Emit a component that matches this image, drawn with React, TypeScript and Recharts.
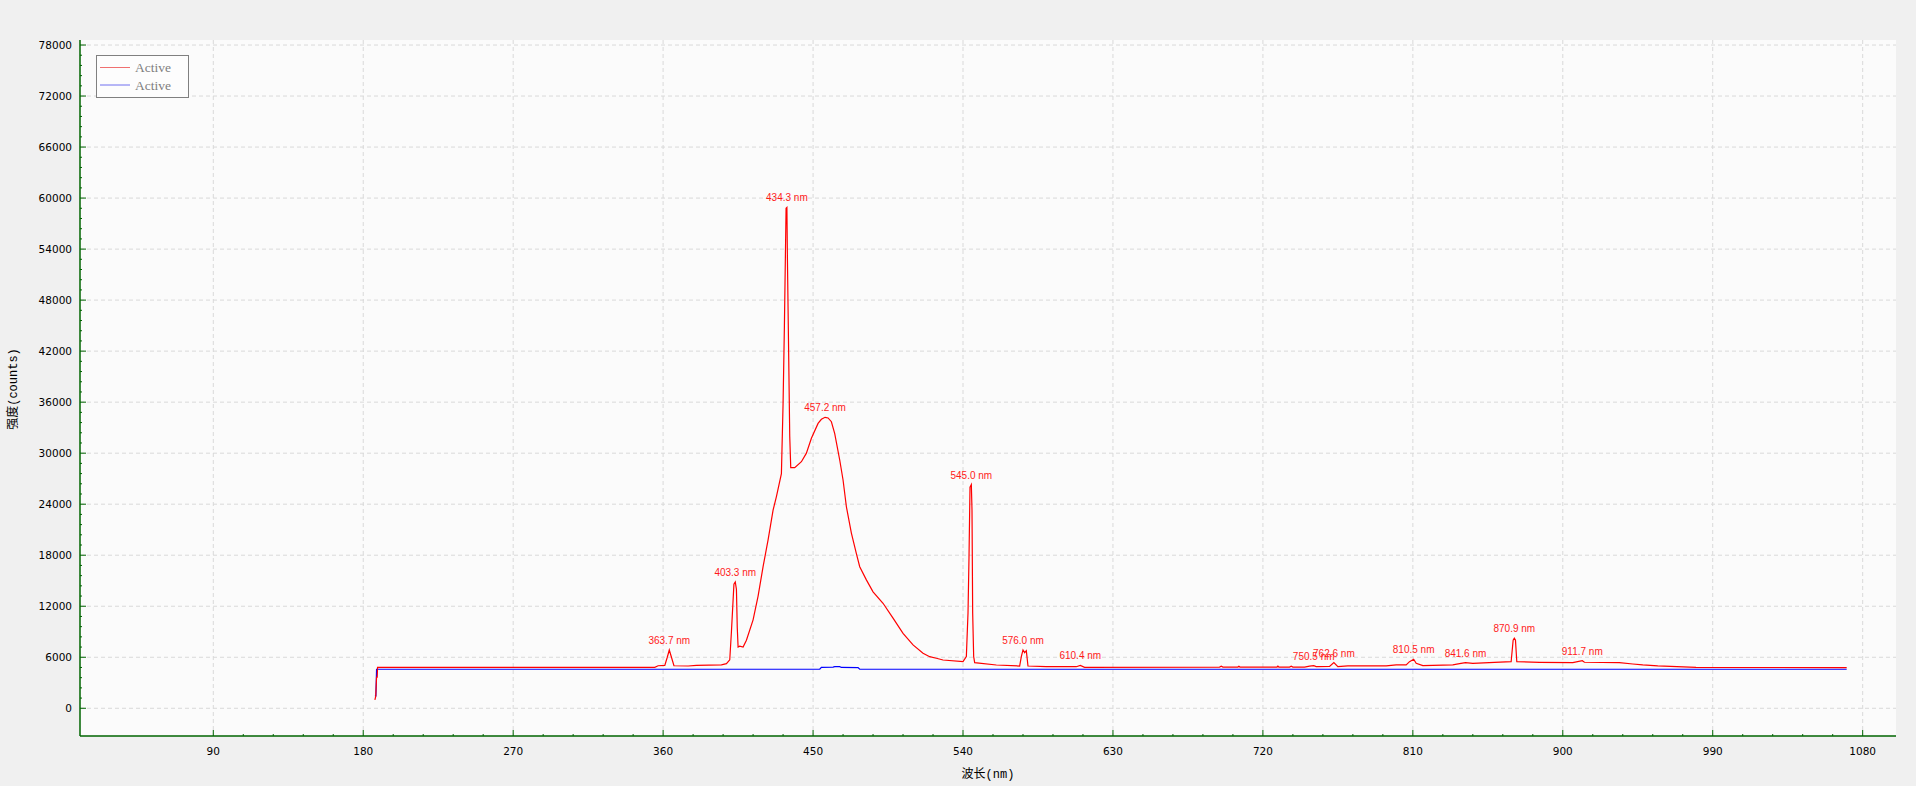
import React from 'react';
import { ComposedChart, Line, Scatter, XAxis, YAxis, CartesianGrid } from 'recharts';

// ---- data ----
const RED_WL = [
  187, 187.5, 188, 188.4, 188.6, 355, 357, 361, 362.5, 363.7, 365, 366.5, 375, 380, 395, 398,
  400, 401, 402.5, 403.3, 404, 404.5, 405, 406, 408, 410, 414, 417, 420, 423, 426, 428, 431,
  432, 432.8, 433.8, 434.3, 434.6, 435.4, 436, 436.6, 439, 443, 446, 449, 453, 455, 457.2, 459, 461, 463,
  466, 468, 470, 473, 476, 478, 482, 486, 492, 498, 504, 510, 516, 520, 524, 528, 540, 542, 543,
  543.6, 544.2, 545.0, 545.4, 545.8, 546.4, 547, 560, 574, 575, 576, 577, 578, 579, 590, 608,
  610.4, 613, 694, 695, 696, 705, 705.6, 706.2, 728.5, 729, 729.6, 736, 737, 738, 745, 748,
  750.5, 752, 760, 762.6, 765, 771, 794, 800, 806, 808, 810.5, 812, 816, 834, 838, 841.6, 846,
  859, 869, 870.2, 870.9, 871.6, 872.4, 886, 906, 911.7, 913, 934, 942, 948, 957, 980, 1070.4,
];
const RED_VAL = [
  1000, 1400, 3650, 3650, 4820, 4820, 5000, 5050, 6000, 6850, 6000, 5000, 4970, 5050, 5100, 5250,
  5700, 9000, 14600, 14850, 14000, 9500, 7200, 7300, 7200, 8000, 10400, 13200, 16650, 19800, 23300, 24900, 27600,
  35800, 45000, 58800, 58900, 53000, 41000, 32000, 28300, 28300, 29000, 30000, 31750, 33500, 33980, 34220, 34140, 33700, 32300,
  29200, 26850, 23700, 20600, 18200, 16650, 15100, 13700, 12350, 10600, 8800, 7450, 6470, 6070, 5880, 5680, 5480, 6070, 11200,
  17800, 26000, 26300, 23300, 11200, 6070, 5360, 5090, 4970, 6070, 6860, 6540, 6780, 4970, 4900, 4890,
  5050, 4820, 4850, 4950, 4850, 4850, 4950, 4850, 4850, 4950, 4850, 4850, 4950, 4850, 4850, 4950,
  5010, 4900, 4920, 5370, 4900, 4980, 4980, 5100, 5100, 5480, 5760, 5290, 5010, 5100, 5250, 5370, 5290,
  5410, 5480, 8000, 8230, 8000, 5480, 5410, 5370, 5600, 5410, 5370, 5210, 5100, 4980, 4820, 4780,
];
const BLUE_WL = [187, 187.6, 188, 454, 455, 462, 463, 466, 467, 477, 478, 1070.4];
const BLUE_VAL = [1450, 1450, 4590, 4590, 4820, 4850, 4900, 4900, 4800, 4780, 4590, 4590];

const PEAK_WL = [363.7, 403.3, 434.3, 457.2, 545.0, 576.0, 610.4, 750.5, 762.6, 810.5, 841.6, 870.9, 911.7];
const PEAK_VAL = [6850, 14850, 58900, 34220, 26300, 6860, 5050, 5010, 5370, 5760, 5370, 8230, 5600];
const PEAK_LABEL = [
  '363.7 nm', '403.3 nm', '434.3 nm', '457.2 nm', '545.0 nm', '576.0 nm', '610.4 nm',
  '750.5 nm', '762.6 nm', '810.5 nm', '841.6 nm', '870.9 nm', '911.7 nm',
];

const X_MAJOR = [90, 180, 270, 360, 450, 540, 630, 720, 810, 900, 990, 1080];
const Y_MAJOR = [0, 6000, 12000, 18000, 24000, 30000, 36000, 42000, 48000, 54000, 60000, 66000, 72000, 78000];
const X_DOMAIN = [10, 1100];
const Y_DOMAIN = [-3260, 78590];
const SERIES_NAMES = ['Active', 'Active'];

// ---- derived tables ----
const redData = RED_WL.map((x, i) => ({ x, y: RED_VAL[i] }));
const blueData = BLUE_WL.map((x, i) => ({ x, y: BLUE_VAL[i] }));
const peakData = PEAK_WL.map((x, i) => ({ x, y: PEAK_VAL[i], label: PEAK_LABEL[i] }));

const withMinor = (majors: number[], parts: number) => {
  const out: number[] = [];
  for (let i = 0; i < majors.length; i++) {
    out.push(majors[i]);
    if (i < majors.length - 1) {
      const step = (majors[i + 1] - majors[i]) / parts;
      for (let k = 1; k < parts; k++) out.push(majors[i] + step * k);
    }
  }
  return out;
};
const X_TICKS = withMinor(X_MAJOR, 5);
const Y_TICKS = withMinor(Y_MAJOR, 5);

const AXIS = '#006400';
const TICK_FONT = '"DejaVu Sans", sans-serif';
const TITLE_FONT = '"Liberation Mono", "Noto Sans CJK SC", monospace';

const XTick = (props: any) => {
  const { x, y, payload } = props;
  const v = payload.value;
  const major = X_MAJOR.some((m) => Math.abs(m - v) < 1e-6);
  return (
    <g>
      <line x1={x} x2={x} y1={y} y2={y - (major ? 6 : 2)} stroke={AXIS} strokeWidth={1} />
      {major && (
        <text x={x} y={y + 19} textAnchor="middle" fontSize={10.5} fontFamily={TICK_FONT} fill="#000">
          {v}
        </text>
      )}
    </g>
  );
};

const YTick = (props: any) => {
  const { x, y, payload } = props;
  const v = payload.value;
  const major = Y_MAJOR.some((m) => Math.abs(m - v) < 1e-6);
  return (
    <g>
      <line x1={x} x2={x + (major ? 6 : 2)} y1={y} y2={y} stroke={AXIS} strokeWidth={1} />
      {major && (
        <text x={x - 8} y={y + 4} textAnchor="end" fontSize={10.5} fontFamily={TICK_FONT} fill="#000">
          {v}
        </text>
      )}
    </g>
  );
};

const PeakLabel = (props: any) => {
  const { cx, cy, payload } = props;
  if (cx == null || cy == null) return <g />;
  return (
    <text
      x={cx}
      y={cy - 6}
      textAnchor="middle"
      fontSize={10}
      fontFamily='"Liberation Sans", Arial, sans-serif'
      fill="#ff1a1a"
    >
      {payload.label}
    </text>
  );
};

const XTitle = (props: any) => {
  const vb = props.viewBox || { x: 80, y: 736, width: 1816 };
  return (
    <text
      x={vb.x + vb.width / 2}
      y={vb.y + 42}
      textAnchor="middle"
      fontSize={12}
      fontFamily={TITLE_FONT}
      fill="#000"
    >
      波长(nm)
    </text>
  );
};

const YTitle = (props: any) => {
  const vb = props.viewBox || { x: 10, y: 40, width: 70, height: 696 };
  const cx = vb.x + 4;
  const cy = vb.y + vb.height / 2 + 1;
  return (
    <text
      x={cx}
      y={cy}
      transform={`rotate(-90, ${cx}, ${cy})`}
      textAnchor="middle"
      dominantBaseline="central"
      fontSize={12}
      fontFamily={TITLE_FONT}
      fill="#000"
    >
      强度(counts)
    </text>
  );
};

const LegendBox = () => (
  <div
    style={{
      position: 'absolute',
      left: 96,
      top: 55,
      width: 93,
      height: 43,
      boxSizing: 'border-box',
      border: '1px solid #808080',
      background: '#fdfdfd',
    }}
  >
    <svg width={91} height={41} style={{ display: 'block' }}>
      <line x1={3} x2={33} y1={11.5} y2={11.5} stroke="#f07070" strokeWidth={1} />
      <text x={38} y={16} fontSize={13.5} fontFamily='"Liberation Serif", serif' fill="#7f7f7f">
        {SERIES_NAMES[0]}
      </text>
      <line x1={3} x2={33} y1={29} y2={29} stroke="#7070f0" strokeWidth={1} />
      <text x={38} y={33.5} fontSize={13.5} fontFamily='"Liberation Serif", serif' fill="#7f7f7f">
        {SERIES_NAMES[1]}
      </text>
    </svg>
  </div>
);

export default function App() {
  return (
    <div
      style={{
        position: 'absolute',
        left: 0,
        top: 0,
        width: 1916,
        height: 786,
        background: '#f0f0f0',
        overflow: 'hidden',
      }}
    >
      <ComposedChart
        width={1916}
        height={786}
        margin={{ top: 40, right: 20, bottom: 0, left: 10 }}
      >
        <CartesianGrid
          stroke="#d9d9d9"
          strokeDasharray="4 3"
          fill="#fbfbfb"
          fillOpacity={1}
          verticalValues={X_MAJOR}
          horizontalValues={Y_MAJOR}
        />
        <XAxis
          dataKey="x"
          type="number"
          domain={X_DOMAIN}
          allowDataOverflow
          ticks={X_TICKS}
          interval={0}
          height={50}
          tickSize={0}
          tickMargin={0}
          tickLine={false}
          tick={<XTick />}
          axisLine={{ stroke: AXIS, strokeWidth: 1.5 }}
          label={<XTitle />}
        />
        <XAxis
          xAxisId="top"
          orientation="top"
          type="number"
          domain={X_DOMAIN}
          allowDataOverflow
          height={0}
          tick={false}
          tickLine={false}
          axisLine={{ stroke: AXIS, strokeWidth: 1.5 }}
        />
        <YAxis
          dataKey="y"
          type="number"
          domain={Y_DOMAIN}
          allowDataOverflow
          ticks={Y_TICKS}
          interval={0}
          width={70}
          tickSize={0}
          tickMargin={0}
          tickLine={false}
          tick={<YTick />}
          axisLine={{ stroke: AXIS, strokeWidth: 1.5 }}
          label={<YTitle />}
        />
        <YAxis
          yAxisId="right"
          orientation="right"
          type="number"
          domain={Y_DOMAIN}
          allowDataOverflow
          width={0}
          tick={false}
          tickLine={false}
          axisLine={{ stroke: AXIS, strokeWidth: 1.5 }}
        />
        <Line
          data={blueData}
          dataKey="y"
          type="linear"
          stroke="#0000ff"
          strokeWidth={1.2}
          dot={false}
          activeDot={false}
          isAnimationActive={false}
          name={SERIES_NAMES[1]}
        />
        <Line
          data={redData}
          dataKey="y"
          type="linear"
          stroke="#ff0000"
          strokeWidth={1.2}
          dot={false}
          activeDot={false}
          isAnimationActive={false}
          name={SERIES_NAMES[0]}
        />
        <Scatter
          data={peakData}
          dataKey="y"
          shape={<PeakLabel />}
          isAnimationActive={false}
          legendType="none"
        />
      </ComposedChart>
      <LegendBox />
    </div>
  );
}
